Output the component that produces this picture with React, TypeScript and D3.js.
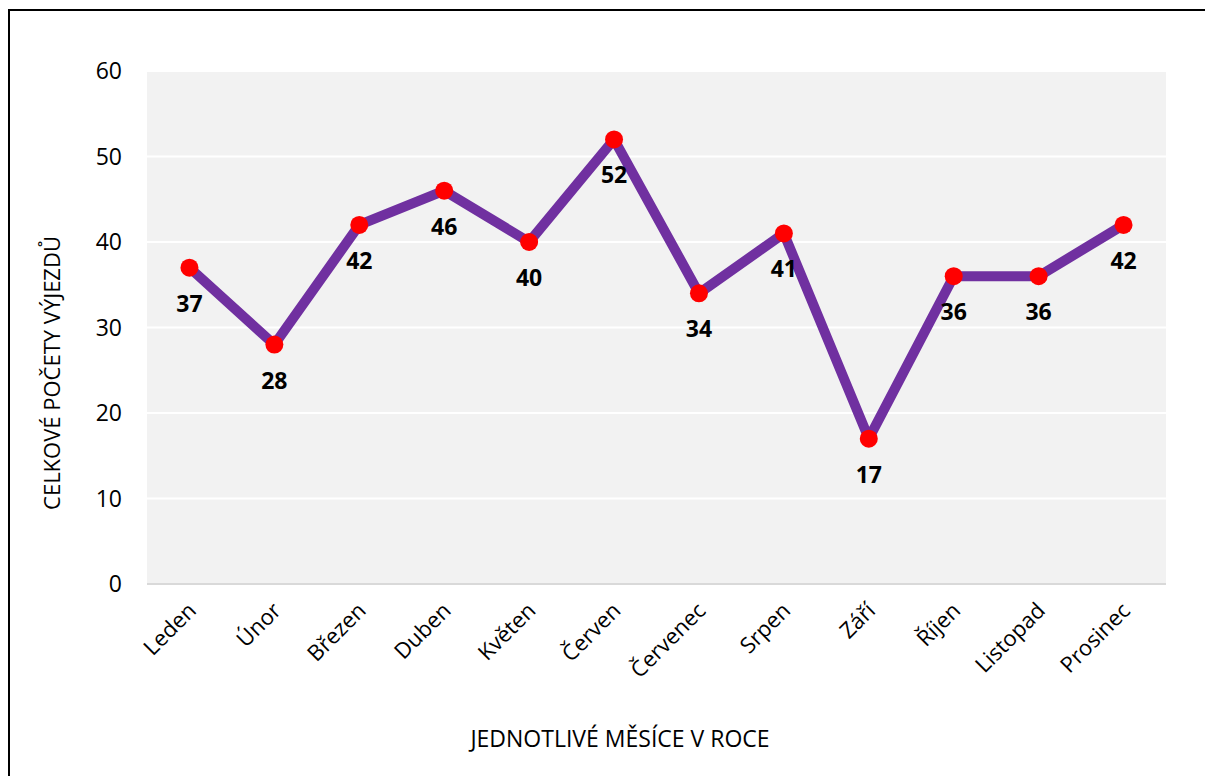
import React from "react";
import * as d3 from "d3";

const months = ["Leden", "Únor", "Březen", "Duben", "Květen", "Červen", "Červenec", "Srpen", "Září", "Říjen", "Listopad", "Prosinec"];
const values = [37, 28, 42, 46, 40, 52, 34, 41, 17, 36, 36, 42];
const yTicks = [0, 10, 20, 30, 40, 50, 60];
const xTitle = "JEDNOTLIVÉ MĚSÍCE V ROCE";
const yTitle = "CELKOVÉ POČETY VÝJEZDŮ";

const W = 1205;
const H = 776;
const plot = { left: 147, right: 1166, top: 71, bottom: 584 };
const FONT = "'Open Sans', sans-serif";

export default function App() {
  const x = d3.scaleBand<string>().domain(months).range([plot.left, plot.right]);
  const y = d3.scaleLinear().domain([0, 60]).range([plot.bottom, plot.top]);
  const cx = (m: string) => (x(m) as number) + x.bandwidth() / 2;
  const line = d3
    .line<number>()
    .x((_, i) => cx(months[i]))
    .y((d) => y(d));

  return (
    <svg width={W} height={H} style={{ display: "block", position: "absolute", left: 0, top: 0 }}>
      <rect x={0} y={0} width={W} height={H} fill="#fff" />
      <line x1={8} x2={W} y1={10} y2={10} stroke="#000" strokeWidth={2} />
      <line x1={9} x2={9} y1={9} y2={H} stroke="#000" strokeWidth={2} />
      <rect x={plot.left} y={plot.top} width={plot.right - plot.left} height={plot.bottom - plot.top} fill="#f2f2f2" />
      {yTicks.map((t) => (
        <g key={t}>
          <line
            x1={plot.left}
            x2={plot.right}
            y1={y(t)}
            y2={y(t)}
            stroke={t === 0 ? "#d9d9d9" : "#ffffff"}
            strokeWidth={2}
          />
          <text x={122} y={y(t)} dy="0.35em" textAnchor="end" fontFamily={FONT} fontSize={23} fill="#000">
            {t}
          </text>
        </g>
      ))}
      {months.map((m) => (
        <text
          key={m}
          transform={`translate(${cx(m) + 8},${612}) rotate(-45)`}
          textAnchor="end"
          fontFamily={FONT}
          fontSize={22}
          fill="#000"
        >
          {m}
        </text>
      ))}
      <path d={line(values) || ""} fill="none" stroke="#7030a0" strokeWidth={10} strokeLinejoin="round" />
      {values.map((v, i) => (
        <circle key={i} cx={cx(months[i])} cy={y(v)} r={9} fill="#ff0000" />
      ))}
      {values.map((v, i) => (
        <text
          key={"l" + i}
          x={cx(months[i])}
          y={y(v) + 44}
          textAnchor="middle"
          fontFamily={FONT}
          fontWeight="bold"
          fontSize={23}
          fill="#000"
        >
          {v}
        </text>
      ))}
      <text x={620} y={747} textAnchor="middle" fontFamily={FONT} fontSize={23} fill="#000">
        {xTitle}
      </text>
      <text
        transform={`translate(60,${373}) rotate(-90)`}
        textAnchor="middle"
        fontFamily={FONT}
        fontSize={22}
        fill="#000"
      >
        {yTitle}
      </text>
    </svg>
  );
}
